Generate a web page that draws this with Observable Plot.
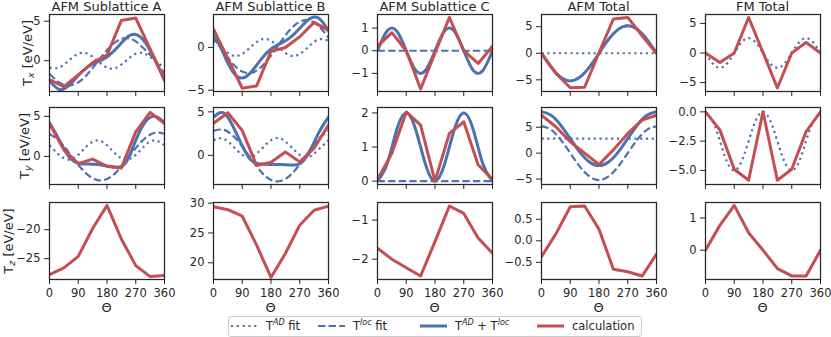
<!DOCTYPE html>
<html><head><meta charset="utf-8">
<script src="https://cdn.jsdelivr.net/npm/d3@7"></script>
<script src="https://cdn.jsdelivr.net/npm/@observablehq/plot@0.6"></script>
<style>
body{margin:0;background:#fff;}
#root{position:relative;width:831px;height:337px;overflow:hidden;font-family:"DejaVu Sans",sans-serif;}
.cell{position:absolute;}
.cell svg{display:block;max-width:none;}
#overlay{position:absolute;left:0;top:0;}
</style></head><body><div id="root"></div>
<script>
// ---------- data ----------
const THETA_CALC = [0,45,90,135,180,225,270,315,360];
const THETA_FIT = [0,30,60,90,120,150,180,210,240,270,300,330,360];
const X_TICKS = [0,90,180,270,360];
const COLUMN_TITLES = ["AFM Sublattice A","AFM Sublattice B","AFM Sublattice C","AFM Total","FM Total"];
const ROW_COMPONENTS = ["x","y","z"];
const LEGEND_LABELS = ["AD fit","loc fit","sum","calculation"];

// T_x
const calcX_A = [-2.4,-3.3,-1.8,-0.25,0.7,5.1,5.4,1.5,-2.4];
const adX_A   = [-0.87,-0.87,0,0.87,0.87,0,-0.87,-0.87,0,0.87,0.87,0,-0.87];
const locX_A  = [-1.65,-2.75,-3.15,-2.75,-1.65,-0.15,1.35,2.45,2.85,2.45,1.35,0.1,-1.65];
const sumX_A  = [-2.52,-3.62,-3.15,-1.88,-0.78,-0.15,0.48,1.58,2.85,3.32,2.3,0.1,-2.52];

const calcX_B = [2.15,-1.3,-4.77,-4.5,-0.45,0.0,1.25,2.93,2.0];
const adX_B   = [0.77,-0.17,-0.94,-0.77,0.17,0.94,0.77,-0.17,-0.94,-0.77,0.17,0.94,0.77];
const locX_B  = [1.16,-0.44,-1.89,-2.81,-2.95,-2.27,-0.96,0.64,2.09,3.01,3.15,2.47,1.16];
const sumX_B  = [1.93,-0.61,-2.83,-3.58,-2.78,-1.33,-0.19,0.47,1.15,2.24,3.32,3.41,1.93];

const calcX_C = [0.2,0.8,0.0,-1.69,-0.1,1.47,0.0,-0.56,0.2];
const adX_C   = [0,0.87,0.87,0,-0.87,-0.87,0,0.87,0.87,0,-0.87,-0.87,0];
const locX_C  = [0,0,0,0,0,0,0,0,0,0,0,0,0];
const sumX_C  = [0,0.87,0.87,0,-0.87,-0.87,0,0.87,0.87,0,-0.87,-0.87,0];

const calcX_T = [0,-3.75,-6.5,-6.4,0.1,6.45,6.75,3.3,0];
const adX_T   = [0,0,0,0,0,0,0,0,0,0,0,0,0];
const locX_T  = [0,-2.6,-4.5,-5.2,-4.5,-2.6,0,2.6,4.5,5.2,4.5,2.6,0];
const sumX_T  = [0,-2.6,-4.5,-5.2,-4.5,-2.6,0,2.6,4.5,5.2,4.5,2.6,0];

const calcX_F = [0,-1.6,0,6.0,0.1,-5.9,0,1.8,0];
const adX_F   = [0,-2.17,-2.17,0,2.17,2.17,0,-2.17,-2.17,0,2.17,2.17,0];

// T_y
const calcY_A = [4.1,0.82,-0.9,-0.33,-1.23,-1.43,3.07,5.5,4.1];
const adY_A   = [1.4,0.2,-0.4,0.2,1.4,2.0,1.4,0.2,-0.4,0.2,1.4,2.0,1.4];
const locY_A  = [2.82,1.93,0.52,-1.03,-2.3,-2.95,-2.82,-1.93,-0.52,1.03,2.3,2.95,2.82];
const sumY_A  = [4.2,2.1,0.0,-0.85,-0.95,-1.0,-1.2,-1.35,-0.7,2.0,4.3,5.0,4.2];

const calcY_B = [3.68,4.9,2.84,-1.17,-0.8,0.38,-0.75,0.84,3.49];
const adY_B   = [1.74,1.93,1.09,0.06,-0.13,0.71,1.74,1.93,1.09,0.06,-0.13,0.71,1.74];
const locY_B  = [2.82,2.95,2.3,1.03,-0.52,-1.93,-2.82,-2.95,-2.3,-1.03,0.52,1.93,2.82];
const sumY_B  = [4.4,4.9,3.4,1.1,-0.65,-1.0,-1.05,-1.05,-1.1,-0.97,0.39,2.64,4.4];

const calcY_C = [0.05,0.82,2.03,1.64,0.0,1.4,1.74,0.48,0.05];
const adY_C   = [0,0.5,1.5,2,1.5,0.5,0,0.5,1.5,2,1.5,0.5,0];
const locY_C  = [0,0,0,0,0,0,0,0,0,0,0,0,0];
const sumY_C  = [0,0.5,1.5,2,1.5,0.5,0,0.5,1.5,2,1.5,0.5,0];

const calcY_T = [7.3,5.08,2.2,0.0,-2.2,0.63,3.8,6.35,7.3];
const adY_T   = [2.8,2.8,2.8,2.8,2.8,2.8,2.8,2.8,2.8,2.8,2.8,2.8,2.8];
const locY_T  = [5.2,4.5,2.6,0,-2.6,-4.5,-5.2,-4.5,-2.6,0,2.6,4.5,5.2];
const sumY_T  = [8.0,7.3,5.4,2.8,0.2,-1.7,-2.4,-1.7,0.2,2.8,5.4,7.3,8.0];

const calcY_F = [0,-1.54,-4.9,-5.84,0,-5.84,-4.9,-1.68,0];
const adY_F   = [0,-1.25,-3.75,-5,-3.75,-1.25,0,-1.25,-3.75,-5,-3.75,-1.25,0];

// T_z
const calcZ_A = [-27.76,-26.6,-24.6,-19.8,-15.8,-21.6,-26.2,-28.1,-27.9];
const calcZ_B = [29.4,28.9,27.8,22.95,17.55,21.55,26.3,28.8,29.5];
const calcZ_C = [-1.72,-2.0,-2.22,-2.43,-1.55,-0.64,-0.83,-1.46,-1.85];
const calcZ_T = [-0.37,0.16,0.79,0.81,0.27,-0.66,-0.72,-0.82,-0.31];
const calcZ_F = [0,0.77,1.39,0.54,0.0,-0.57,-0.8,-0.8,0];

// axis domains and tick values
const Y_DOMAINS = [
  [[-3.9,5.85],[-5.15,3.85],[-1.8,1.6],[-7.2,7.3],[-6.5,6.5]],
  [[-3.5,6.1],[-3.35,5.5],[-0.1,2.16],[-6.05,8.8],[-6.2,0.37]],
  [[-28.6,-15.3],[17.2,30.1],[-2.52,-0.55],[-0.9,0.89],[-0.91,1.48]]
];
const Y_TICKS = [
  [[0,5],[-5,0],[-1,0,1],[-5,0,5],[-5,0,5]],
  [[0,5],[0,5],[0,1,2],[-5,0,5],[-5,-2.5,0]],
  [[-25,-20],[20,25,30],[-2,-1],[-0.5,0,0.5],[0,1]]
];
const Y_FORMATS = [
  ["d","d","d","d","d"],
  ["d","d","d","d",".1f"],
  ["d","d","d",".1f","d"]
];

// ---------- assembly ----------
const SERIES = [
  [
    {calc: calcX_A, ad: adX_A, loc: locX_A, sum: sumX_A},
    {calc: calcX_B, ad: adX_B, loc: locX_B, sum: sumX_B},
    {calc: calcX_C, ad: adX_C, loc: locX_C, sum: sumX_C},
    {calc: calcX_T, ad: adX_T, loc: locX_T, sum: sumX_T},
    {calc: calcX_F, ad: adX_F}
  ],
  [
    {calc: calcY_A, ad: adY_A, loc: locY_A, sum: sumY_A},
    {calc: calcY_B, ad: adY_B, loc: locY_B, sum: sumY_B},
    {calc: calcY_C, ad: adY_C, loc: locY_C, sum: sumY_C},
    {calc: calcY_T, ad: adY_T, loc: locY_T, sum: sumY_T},
    {calc: calcY_F, ad: adY_F}
  ],
  [
    {calc: calcZ_A}, {calc: calcZ_B}, {calc: calcZ_C}, {calc: calcZ_T}, {calc: calcZ_F}
  ]
];

const BLUE = "#4c72b0", RED = "#c44e52", INK = "#262626";
const FRAME_LEFT = [49, 213, 377, 541, 705];
const FRAME_TOP = [14, 107, 202];
const YLABEL_X = [31.5, 28.5, 12.5];
const FW = 115, FH = 77;
const ML = 50, MR = 10, MT = 6, MB = 26;
const DOT = "2.2,3.6", DASH = "7.4,3.2";

const root = document.getElementById("root");

function panel(r, c) {
  const s = SERIES[r][c];
  const marks = [];
  if (s.ad) marks.push(Plot.lineY(s.ad, {x: THETA_FIT, stroke: BLUE, strokeWidth: 2.2, strokeDasharray: DOT, strokeLinecap: "butt", curve: "natural", clip: true}));
  if (s.loc) marks.push(Plot.lineY(s.loc, {x: THETA_FIT, stroke: BLUE, strokeWidth: 2.2, strokeDasharray: DASH, strokeLinecap: "butt", curve: "natural", clip: true}));
  if (s.sum) marks.push(Plot.lineY(s.sum, {x: THETA_FIT, stroke: BLUE, strokeWidth: 3, curve: "natural", clip: true}));
  marks.push(Plot.lineY(s.calc, {x: THETA_CALC, stroke: RED, strokeWidth: 3, clip: true}));
  marks.push(Plot.frame({stroke: INK, strokeWidth: 1.25}));
  const fmt = d3.format(Y_FORMATS[r][c]);
  return Plot.plot({
    width: ML + FW + MR, height: MT + FH + MB,
    marginLeft: ML, marginRight: MR, marginTop: MT, marginBottom: MB,
    style: {background: "transparent", color: INK, fontFamily: "DejaVu Sans", fontSize: "11.5px", overflow: "visible"},
    x: {domain: [0, 360], ticks: X_TICKS, tickSize: 5, tickPadding: 4, label: null,
        tickFormat: r === 2 ? (d => String(d)) : (() => "")},
    y: {domain: Y_DOMAINS[r][c], ticks: Y_TICKS[r][c], tickSize: 5, tickPadding: 4, label: null, tickFormat: fmt},
    marks
  });
}

for (let r = 0; r < 3; r++) {
  for (let c = 0; c < 5; c++) {
    const div = document.createElement("div");
    div.className = "cell";
    div.style.left = (FRAME_LEFT[c] - ML) + "px";
    div.style.top = (FRAME_TOP[r] - MT) + "px";
    div.appendChild(panel(r, c));
    root.appendChild(div);
  }
}

// ---------- text overlay: titles, axis labels, legend ----------
const ov = d3.select(root).append("svg").attr("id", "overlay")
  .attr("width", 831).attr("height", 337)
  .style("font-family", "DejaVu Sans").style("fill", INK);

COLUMN_TITLES.forEach((t, c) => {
  ov.append("text").attr("x", FRAME_LEFT[c] + FW / 2).attr("y", 10.5)
    .attr("text-anchor", "middle").attr("font-size", 13).text(t);
  ov.append("text").attr("x", FRAME_LEFT[c] + FW / 2).attr("y", 311.5)
    .attr("text-anchor", "middle").attr("font-size", 13).text("Θ");
});

ROW_COMPONENTS.forEach((comp, r) => {
  const t = ov.append("text")
    .attr("transform", `translate(${YLABEL_X[r]},${FRAME_TOP[r] + FH / 2 + 0.5}) rotate(-90)`)
    .attr("text-anchor", "middle").attr("font-size", 13);
  t.append("tspan").text("T");
  t.append("tspan").attr("font-size", 9.5).attr("font-style", "italic").attr("dy", 2).text(comp);
  t.append("tspan").attr("dy", -2).text(" [eV/eV]");
});

// legend
const lg = ov.append("g");
lg.append("rect").attr("x", 228.5).attr("y", 316.5).attr("width", 413).attr("height", 20)
  .attr("rx", 2.5).attr("fill", "white").attr("stroke", "#cccccc").attr("stroke-width", 1);
const LY = 326;
const handles = [
  {x0: 231, dash: DOT, w: 2.2, color: BLUE},
  {x0: 318, dash: DASH, w: 2.2, color: BLUE},
  {x0: 420, dash: null, w: 3, color: BLUE},
  {x0: 537, dash: null, w: 3, color: RED}
];
handles.forEach(h => {
  const l = lg.append("line").attr("x1", h.x0).attr("x2", h.x0 + 27).attr("y1", LY).attr("y2", LY)
    .attr("stroke", h.color).attr("stroke-width", h.w);
  if (h.dash) l.attr("stroke-dasharray", h.dash);
});
function sup(t, s) { t.append("tspan").attr("font-size", 8).attr("font-style", "italic").attr("dy", -5).text(s); }
const t1 = lg.append("text").attr("x", 266).attr("y", LY + 4).attr("font-size", 11.5);
t1.append("tspan").text("T"); sup(t1, "AD"); t1.append("tspan").attr("dy", 5).text(" fit");
const t2 = lg.append("text").attr("x", 353).attr("y", LY + 4).attr("font-size", 11.5);
t2.append("tspan").text("T"); sup(t2, "loc"); t2.append("tspan").attr("dy", 5).text(" fit");
const t3 = lg.append("text").attr("x", 455).attr("y", LY + 4).attr("font-size", 11.5);
t3.append("tspan").text("T"); sup(t3, "AD"); t3.append("tspan").attr("dy", 5).text(" + T");
sup(t3, "loc");
lg.append("text").attr("x", 572).attr("y", LY + 4).attr("font-size", 11.5).text(LEGEND_LABELS[3]);
</script>
</body></html>
